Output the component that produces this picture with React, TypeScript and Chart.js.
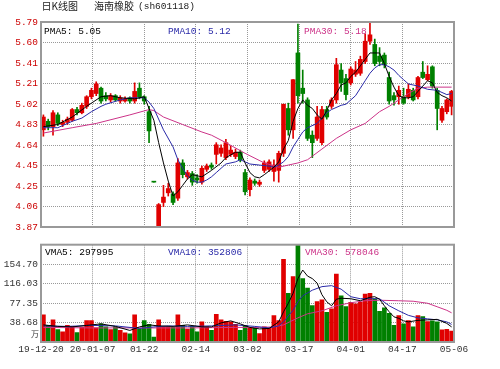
import React, { useEffect, useRef } from 'react';
import { Chart, registerables } from 'chart.js';
Chart.register(...registerables);

// ---------------- data ----------------
const tickLabels = ['19-12-20', '20-01-07', '01-22', '02-14', '03-02', '03-17', '04-01', '04-17', '05-06'];

const openP = [
  4.78, 4.86, 4.81, 4.92, 4.83, 4.85, 4.87, 4.97, 4.94, 5.0,
  5.09, 5.12, 5.17, 5.1, 5.06, 5.1, 5.05, 5.05, 5.08, 5.05,
  5.17, 5.09, 4.95, 4.29, 3.87, 4.1, 4.19, 4.18, 4.14, 4.47,
  4.34, 4.37, 4.33, 4.29, 4.41, 4.45, 4.55, 4.56, 4.52, 4.55,
  4.53, 4.57, 4.38, 4.22, 4.3, 4.27, 4.4, 4.41, 4.39, 4.4,
  4.56, 4.98, 4.78, 5.5, 5.17, 5.06, 4.73, 4.7, 4.66, 4.97,
  5.0, 5.06, 5.34, 5.26, 5.22, 5.3, 5.31, 5.42, 5.61, 5.58,
  5.47, 5.48, 5.27, 5.1, 5.09, 5.09, 5.09, 5.15, 5.09, 5.32,
  5.25, 5.37, 5.15, 4.87, 4.95, 5.0,
];
const highP = [
  4.92, 4.88, 4.96, 4.94, 4.87, 4.9, 4.98, 4.99, 5.03, 5.1,
  5.17, 5.23, 5.18, 5.13, 5.12, 5.11, 5.1, 5.09, 5.09, 5.22,
  5.22, 5.1, 5.0, 4.29, 4.09, 4.26, 4.28, 4.2, 4.51, 4.5,
  4.4, 4.39, 4.36, 4.44, 4.46, 4.47, 4.66, 4.64, 4.69, 4.63,
  4.6, 4.59, 4.41, 4.33, 4.32, 4.31, 4.49, 4.5, 4.5, 4.58,
  5.02, 5.03, 5.25, 5.77, 5.34, 5.08, 4.77, 5.0, 5.0, 5.0,
  5.08, 5.45, 5.4, 5.3, 5.37, 5.42, 5.47, 5.68, 5.79, 5.63,
  5.55, 5.5, 5.32, 5.13, 5.19, 5.17, 5.21, 5.17, 5.28, 5.42,
  5.38, 5.38, 5.17, 5.0, 5.07, 5.15,
];
const lowP = [
  4.72, 4.78, 4.73, 4.82, 4.81, 4.83, 4.86, 4.92, 4.93, 4.98,
  5.07, 5.1, 5.03, 5.05, 5.04, 5.05, 5.03, 5.04, 5.03, 5.03,
  5.07, 5.02, 4.66, 4.29, 3.87, 4.06, 4.16, 4.08, 4.12, 4.33,
  4.32, 4.26, 4.28, 4.27, 4.39, 4.41, 4.46, 4.53, 4.5, 4.53,
  4.51, 4.48, 4.17, 4.16, 4.26, 4.25, 4.38, 4.39, 4.3, 4.29,
  4.53, 4.73, 4.7, 5.03, 5.03, 4.68, 4.52, 4.68, 4.64, 4.88,
  4.98, 5.03, 5.14, 5.06, 5.2, 5.28, 5.29, 5.4, 5.58, 5.38,
  5.38, 5.36, 5.02, 5.01, 5.02, 5.02, 5.07, 5.05, 5.07, 5.26,
  5.24, 5.17, 4.78, 4.85, 4.93, 4.92,
];
const closeP = [
  4.9, 4.81, 4.94, 4.84, 4.85, 4.88, 4.97, 4.94, 5.01, 5.09,
  5.15, 5.21, 5.05, 5.07, 5.1, 5.06, 5.08, 5.07, 5.05, 5.14,
  5.09, 5.05, 4.77, 4.29, 4.08, 4.15, 4.23, 4.1, 4.47, 4.36,
  4.38, 4.29, 4.31, 4.42, 4.44, 4.43, 4.64, 4.61, 4.66, 4.59,
  4.57, 4.5, 4.2, 4.31, 4.28, 4.29, 4.47, 4.48, 4.45, 4.56,
  5.02, 4.78, 5.25, 5.1, 5.12, 4.7, 4.66, 4.9, 4.97, 4.9,
  5.06, 5.39, 5.22, 5.11, 5.35, 5.34, 5.44, 5.61, 5.67, 5.4,
  5.42, 5.39, 5.05, 5.06, 5.15, 5.03, 5.16, 5.06, 5.27, 5.27,
  5.3, 5.19, 4.98, 4.98, 5.06, 5.14,
];
// volume, in 万
const volume = [
  54, 33, 44, 24.5, 20, 33, 31, 18.5, 29.6, 42.8,
  42.8, 28, 36, 30, 24.5, 30, 23, 18, 16, 54,
  26, 42.8, 35, 10, 44, 30, 30, 29, 54, 33,
  25.5, 31, 20, 40, 30, 23, 55, 44, 41, 40,
  35, 23, 33, 27, 27, 16.5, 30, 27, 52.7, 42.8,
  164.5, 96.7, 130, 197, 126, 107, 72.4, 80.3, 83.6, 59,
  65.8, 135, 92, 70.4, 79, 75.7, 79, 95.4, 96.7, 85.6,
  61, 68, 57, 33, 52.7, 36, 42.8, 30, 52.7, 50.7,
  40.8, 42, 40, 24, 25, 21.7,
];

// moving-average lines as [bar index, value]
const pma5 = [
  [0, 4.81], [3, 4.83], [6, 4.9], [9, 5.0], [12, 5.09], [14, 5.1], [16, 5.08], [19, 5.07], [21, 5.09], [22, 4.98],
  [23, 4.87], [24, 4.66], [25, 4.47], [26, 4.3], [27, 4.16], [28, 4.2], [29, 4.26], [30, 4.32], [31, 4.36], [32, 4.35],
  [33, 4.34], [35, 4.4], [37, 4.47], [38, 4.52], [40, 4.57], [41, 4.57], [42, 4.47], [43, 4.38], [44, 4.34], [45, 4.33],
  [46, 4.36], [48, 4.43], [49, 4.48], [50, 4.6], [51, 4.68], [52, 4.86], [53, 4.98], [54, 5.06], [55, 5.01], [56, 4.98],
  [57, 4.92], [58, 4.88], [59, 4.96], [60, 5.06], [61, 5.12], [62, 5.2], [63, 5.22], [64, 5.28], [65, 5.32], [66, 5.38],
  [67, 5.44], [68, 5.5], [69, 5.5], [70, 5.5], [71, 5.4], [72, 5.28], [73, 5.18], [74, 5.1], [75, 5.08], [76, 5.08],
  [77, 5.09], [78, 5.14], [79, 5.19], [80, 5.24], [81, 5.22], [82, 5.13], [83, 5.1], [84, 5.08], [85, 5.05],
];
const pma10 = [
  [0, 4.8], [3, 4.8], [6, 4.86], [8, 4.89], [10, 4.95], [12, 5.0], [13, 5.02], [16, 5.06], [18, 5.08], [21, 5.08],
  [22, 5.04], [23, 4.98], [25, 4.78], [27, 4.62], [28, 4.5], [29, 4.42], [30, 4.35], [31, 4.31], [32, 4.29], [33, 4.29],
  [34, 4.31], [35, 4.34], [36, 4.38], [37, 4.42], [38, 4.46], [40, 4.48], [41, 4.5], [42, 4.48], [43, 4.46], [45, 4.45],
  [47, 4.44], [48, 4.43], [49, 4.45], [50, 4.48], [51, 4.53], [52, 4.62], [53, 4.69], [54, 4.76], [55, 4.8], [57, 4.84],
  [59, 4.94], [60, 4.97], [62, 5.01], [63, 5.02], [64, 5.06], [65, 5.1], [66, 5.17], [67, 5.24], [68, 5.31], [69, 5.36],
  [70, 5.39], [71, 5.39], [72, 5.37], [73, 5.34], [74, 5.29], [75, 5.25], [76, 5.21], [78, 5.19], [80, 5.16], [82, 5.15],
  [84, 5.11], [85, 5.12],
];
const pma30 = [
  [0, 4.75], [6, 4.8], [11, 4.84], [18, 4.92], [22, 4.97], [23, 4.96], [25, 4.9], [29, 4.83], [33, 4.76], [35, 4.73],
  [38, 4.66], [42, 4.56], [46, 4.47], [49, 4.43], [51, 4.45], [53, 4.47], [55, 4.5], [58, 4.6], [61, 4.7], [64, 4.78],
  [67, 4.84], [70, 4.95], [72, 5.0], [74, 5.06], [76, 5.12], [78, 5.17], [80, 5.18], [82, 5.18], [85, 5.18],
];
const vma5 = [
  [0, 34], [3, 31], [6, 30], [9, 33], [12, 36], [15, 31], [18, 23], [20, 30], [22, 34], [24, 32],
  [27, 31], [30, 34], [33, 30], [35, 30], [37, 38], [39, 42], [41, 36], [43, 29], [45, 26], [47, 27],
  [49, 40], [50, 60], [51, 77], [52, 97], [53, 126], [54, 143], [55, 131], [56, 126], [57, 117], [58, 94],
  [59, 80], [60, 72], [61, 85], [62, 87], [64, 86], [66, 82], [68, 89], [69, 90], [70, 85], [71, 72],
  [72, 60], [73, 50], [74, 47], [75, 42], [76, 40], [78, 43], [80, 44], [82, 45], [84, 37], [85, 30],
];
const vma10 = [
  [0, 32], [5, 31], [10, 33], [15, 32], [20, 27], [23, 30], [26, 32], [30, 31], [35, 32], [40, 34],
  [44, 31], [47, 28], [49, 32], [50, 40], [51, 52], [52, 63], [53, 80], [54, 92], [56, 103], [58, 110],
  [60, 112], [62, 105], [64, 90], [66, 86], [70, 86], [72, 72], [74, 62], [76, 53], [78, 48], [80, 46],
  [82, 44], [84, 40], [85, 35],
];
const vma30 = [
  [0, 29], [10, 28], [20, 28], [30, 28], [40, 29], [45, 29], [48, 30], [50, 34], [53, 48], [55, 56],
  [58, 62], [61, 72], [64, 78], [67, 82], [70, 83], [74, 82], [77, 81], [80, 77], [82, 70], [84, 63],
  [85, 58],
];

const priceTicks = [3.87, 4.062, 4.254, 4.446, 4.638, 4.83, 5.022, 5.214, 5.406, 5.598, 5.79];
const volTicks = [0, 38.676, 77.352, 116.028, 154.704, 193.38];

const priceLegend = ['PMA5: 5.05', 'PMA10: 5.12', 'PMA30: 5.18'];
const volLegend = ['VMA5: 297995', 'VMA10: 352806', 'VMA30: 578046'];
const titleParts = ['日K线图', '海南橡胶', '(sh601118)'];

// ---------------- styling ----------------
const RED = '#e00000';
const GREEN = '#008000';
const C_MA5 = '#000000';
const C_MA10 = '#2a2aa8';
const C_MA30 = '#cc3388';
const GRID = '#999999';
const MONO = '"Liberation Mono", "DejaVu Sans Mono", monospace';
const CJK = '"Noto Sans CJK SC", sans-serif';

const N = openP.length;

function isUp(i: number) {
  if (closeP[i] !== openP[i]) return closeP[i] > openP[i];
  return i === 0 ? true : closeP[i] >= closeP[i - 1];
}
const barColors = openP.map((_, i) => (isUp(i) ? RED : GREEN));
const pts = (arr: number[][]) => arr.map(([x, y]) => ({ x, y }));

function xScale(showLabels: boolean) {
  return {
    type: 'linear',
    min: -0.5,
    max: N - 0.5,
    offset: false,
    afterBuildTicks: (s: any) => {
      s.ticks = tickLabels.map((_, k) => ({ value: -0.5 + (k * N) / (tickLabels.length - 1) }));
    },
    afterFit: (s: any) => {
      s.height = showLabels ? 27 : 0;
    },
    ticks: {
      display: showLabels,
      autoSkip: false,
      maxRotation: 0,
      minRotation: 0,
      padding: 2,
      color: '#333',
      font: { family: MONO, size: 9.5 },
      callback: (_v: any, idx: number) => tickLabels[idx],
    },
    grid: { color: GRID, drawTicks: false, lineWidth: 1, offset: false },
    border: { display: false, dash: [1, 1] },
  };
}

type TextItem = { text: string; x: number; y: number; color: string; font: string; align?: CanvasTextAlign };

function overlay(texts: TextItem[]) {
  return {
    id: 'overlay',
    afterDraw(chart: any) {
      const { ctx, chartArea: a } = chart;
      ctx.save();
      ctx.strokeStyle = '#999';
      ctx.lineWidth = 2;
      ctx.strokeRect(a.left, a.top, a.right - a.left, a.bottom - a.top);
      for (const t of texts) {
        ctx.font = t.font;
        ctx.fillStyle = t.color;
        ctx.textBaseline = 'middle';
        ctx.textAlign = t.align || 'left';
        ctx.fillText(t.text, t.x, t.y);
      }
      ctx.restore();
    },
  };
}

const lineDs = (label: string, data: number[][], color: string) => ({
  type: 'line',
  label,
  data: pts(data),
  borderColor: color,
  backgroundColor: color,
  borderWidth: 1,
  pointRadius: 0,
  tension: 0,
  fill: false,
  order: 0,
});

export default function App() {
  const priceRef = useRef<HTMLCanvasElement>(null);
  const volRef = useRef<HTMLCanvasElement>(null);

  useEffect(() => {
    document.body.style.margin = '0';
    Chart.defaults.font.family = MONO;

    const legendFont = `9.5px ${MONO}`;
    const priceTexts: TextItem[] = [
      { text: titleParts[0], x: 41.5, y: 6.5, color: '#222', font: `10px ${CJK}` },
      { text: titleParts[1], x: 94, y: 6.5, color: '#222', font: `10px ${CJK}` },
      { text: titleParts[2], x: 138, y: 6.5, color: '#222', font: legendFont },
      { text: priceLegend[0], x: 44, y: 31, color: C_MA5, font: legendFont },
      { text: priceLegend[1], x: 168, y: 31, color: C_MA10, font: legendFont },
      { text: priceLegend[2], x: 304, y: 31, color: C_MA30, font: legendFont },
    ];
    const volTexts: TextItem[] = [
      { text: volLegend[0], x: 45, y: 16.5, color: C_MA5, font: legendFont },
      { text: volLegend[1], x: 168, y: 16.5, color: C_MA10, font: legendFont },
      { text: volLegend[2], x: 305, y: 16.5, color: C_MA30, font: legendFont },
      { text: '万', x: 39, y: 97.5, color: '#333', font: `8px ${CJK}`, align: 'right' },
    ];

    const pc = new Chart(priceRef.current as HTMLCanvasElement, {
      type: 'bar',
      data: {
        datasets: [
          lineDs('PMA5', pma5, C_MA5),
          lineDs('PMA10', pma10, C_MA10),
          lineDs('PMA30', pma30, C_MA30),
          {
            type: 'bar',
            label: 'body',
            data: openP.map((o, i) => ({ x: i, y: [o, closeP[i]] })),
            backgroundColor: barColors,
            barThickness: 4,
            minBarLength: 1,
            grouped: false,
            order: 1,
          },
          {
            type: 'bar',
            label: 'wick',
            data: lowP.map((l, i) => ({ x: i, y: [l, highP[i]] })),
            backgroundColor: barColors,
            barThickness: 1,
            grouped: false,
            order: 2,
          },
        ] as any,
      },
      options: {
        responsive: false,
        animation: false,
        devicePixelRatio: 1,
        layout: { padding: { left: 0, right: 46, top: 22, bottom: 9 } },
        plugins: { legend: { display: false }, tooltip: { enabled: false }, title: { display: false } },
        scales: {
          x: xScale(false) as any,
          y: {
            type: 'linear',
            min: priceTicks[0],
            max: priceTicks[priceTicks.length - 1],
            beginAtZero: false,
            afterBuildTicks: (s: any) => {
              s.ticks = priceTicks.map((v) => ({ value: v }));
            },
            afterFit: (s: any) => {
              s.width = 41;
            },
            ticks: {
              color: '#cc0000',
              padding: 3,
              font: { family: MONO, size: 9.5 },
              callback: (v: any) => Number(v).toFixed(2),
            },
            grid: { color: GRID, drawTicks: false, lineWidth: 1 },
            border: { display: false, dash: [1, 1] },
          } as any,
        },
      },
      plugins: [overlay(priceTexts)],
    });

    const vc = new Chart(volRef.current as HTMLCanvasElement, {
      type: 'bar',
      data: {
        datasets: [
          lineDs('VMA5', vma5, C_MA5),
          lineDs('VMA10', vma10, C_MA10),
          lineDs('VMA30', vma30, C_MA30),
          {
            type: 'bar',
            label: 'volume',
            data: volume.map((v, i) => ({ x: i, y: v })),
            backgroundColor: barColors,
            barThickness: 4,
            grouped: false,
            order: 1,
          },
        ] as any,
      },
      options: {
        responsive: false,
        animation: false,
        devicePixelRatio: 1,
        layout: { padding: { left: 0, right: 46, top: 7, bottom: 0 } },
        plugins: { legend: { display: false }, tooltip: { enabled: false }, title: { display: false } },
        scales: {
          x: xScale(true) as any,
          y: {
            type: 'linear',
            min: volTicks[0],
            max: volTicks[volTicks.length - 1],
            beginAtZero: false,
            afterBuildTicks: (s: any) => {
              s.ticks = volTicks.map((v) => ({ value: v }));
            },
            afterFit: (s: any) => {
              s.width = 41;
            },
            ticks: {
              color: '#333',
              padding: 3,
              font: { family: MONO, size: 9.5 },
              callback: (v: any) => {
                const n = Number(v);
                return n <= 0 || n >= volTicks[volTicks.length - 1] ? '' : n.toFixed(2);
              },
            },
            grid: { color: GRID, drawTicks: false, lineWidth: 1 },
            border: { display: false, dash: [1, 1] },
          } as any,
        },
      },
      plugins: [overlay(volTexts)],
    });

    return () => {
      pc.destroy();
      vc.destroy();
    };
  }, []);

  return (
    <div style={{ position: 'relative', width: 500, height: 369, background: '#fff', overflow: 'hidden' }}>
      <canvas
        ref={priceRef}
        width={500}
        height={236}
        style={{ position: 'absolute', left: 0, top: 0, width: 500, height: 236 }}
      />
      <canvas
        ref={volRef}
        width={500}
        height={133}
        style={{ position: 'absolute', left: 0, top: 236, width: 500, height: 133 }}
      />
    </div>
  );
}
